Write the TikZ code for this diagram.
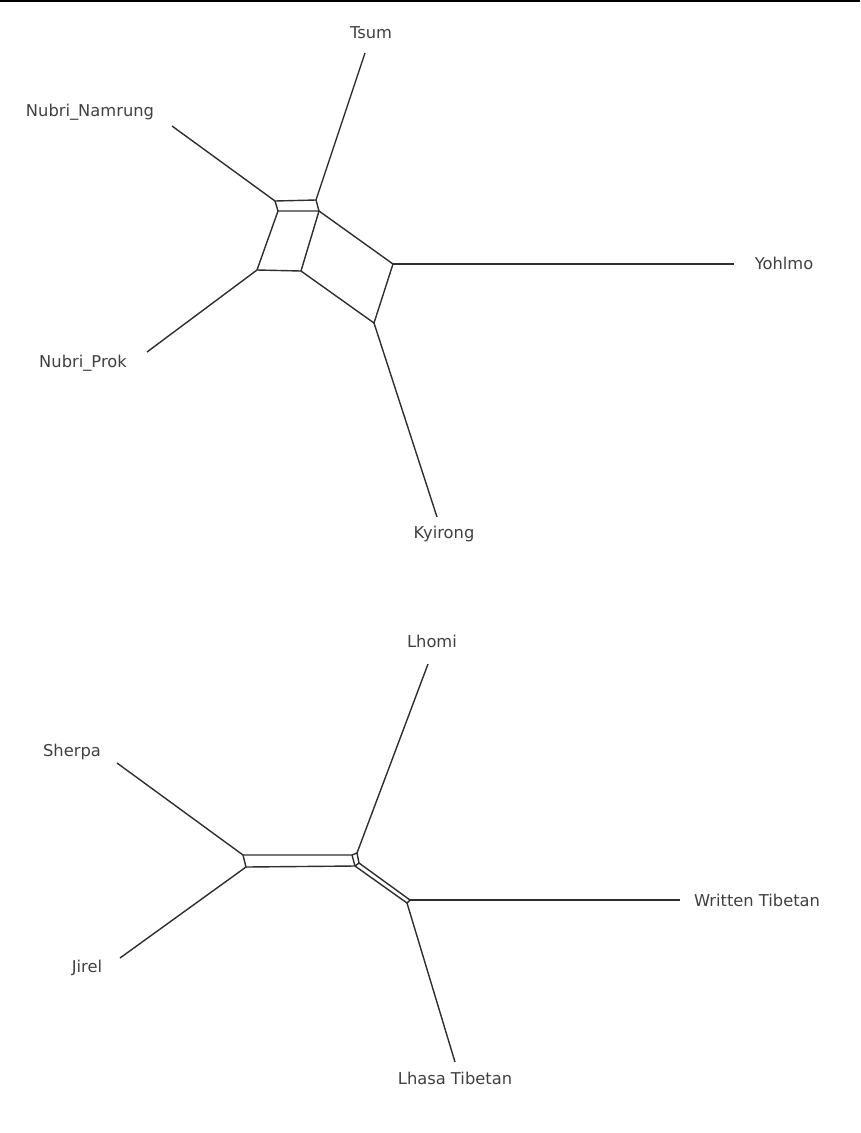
\documentclass[tikz,border=0pt]{standalone}
\usepackage{fontspec}
\setmainfont{DejaVu Sans}

\begin{document}
\begin{tikzpicture}[x=1pt,y=-1pt,line width=1.4pt,color=black!82,
  taxon/.style={font=\fontsize{16.3}{19}\selectfont,text=black!75,inner sep=0pt}]
  \useasboundingbox (0,0) rectangle (860,1133);
  \draw[line width=2.2pt,black] (0,1)--(860,1); % borde superior
  % red 1: Tsum, Nubri, Yohlmo, Kyirong
  \coordinate (nn) at (275,201); \coordinate (ts) at (316,200);
  \coordinate (a1) at (278,211); \coordinate (a2) at (319,211);
  \coordinate (np) at (257,270); \coordinate (b2) at (301,271);
  \coordinate (yo) at (393,264); \coordinate (ky) at (374,323);
  \coordinate (nnE) at (172,126); \coordinate (tsE) at (365,53);
  \coordinate (npE) at (147,352); \coordinate (yoE) at (734,264);
  \coordinate (kyE) at (437,517);
  \node[taxon] (Lnn) at (90,112){Nubri\_Namrung};
  \node[taxon] (Lts) at (371,33){Tsum};
  \node[taxon] (Lnp) at (83,363){Nubri\_Prok};
  \node[taxon] (Lyo) at (784,263){Yohlmo};
  \node[taxon] (Lky) at (444,534){Kyirong};
  \draw (nnE)--(nn)--(ts)--(tsE);
  \draw (nn)--(a1)--(a2)--(ts);
  \draw (a1)--(np)--(b2)--(a2);
  \draw (np)--(npE);
  \draw (a2)--(yo)--(ky)--(b2);
  \draw (yo)--(yoE); \draw (ky)--(kyE);
  % red 2: Sherpa, Jirel, Lhomi, tibetano
  \coordinate (sh) at (243,855); \coordinate (ji) at (246,867);
  \coordinate (c1) at (352,855); \coordinate (c2) at (355,866);
  \coordinate (lh) at (357,853); \coordinate (c3) at (359,863);
  \coordinate (wt) at (410,900); \coordinate (lt) at (407,903);
  \coordinate (shE) at (117,763); \coordinate (jiE) at (120,958);
  \coordinate (lhE) at (428,664); \coordinate (wtE) at (680,900);
  \coordinate (ltE) at (455,1062);
  \node[taxon] (Lsh) at (72,752){Sherpa};
  \node[taxon] (Lji) at (87,968){Jirel};
  \node[taxon] (Llh) at (432,641){Lhomi};
  \node[taxon] (Lwt) at (757,900){Written Tibetan};
  \node[taxon] (Llt) at (455,1078){Lhasa Tibetan};
  \draw (shE)--(sh)--(ji)--(jiE);
  \draw (sh)--(c1)--(c2)--(ji);
  \draw (c1)--(lh)--(c3)--(c2);
  \draw (lh)--(lhE);
  \draw (c3)--(wt)--(lt)--(c2);
  \draw (wt)--(wtE); \draw (lt)--(ltE);
\end{tikzpicture}
\end{document}
